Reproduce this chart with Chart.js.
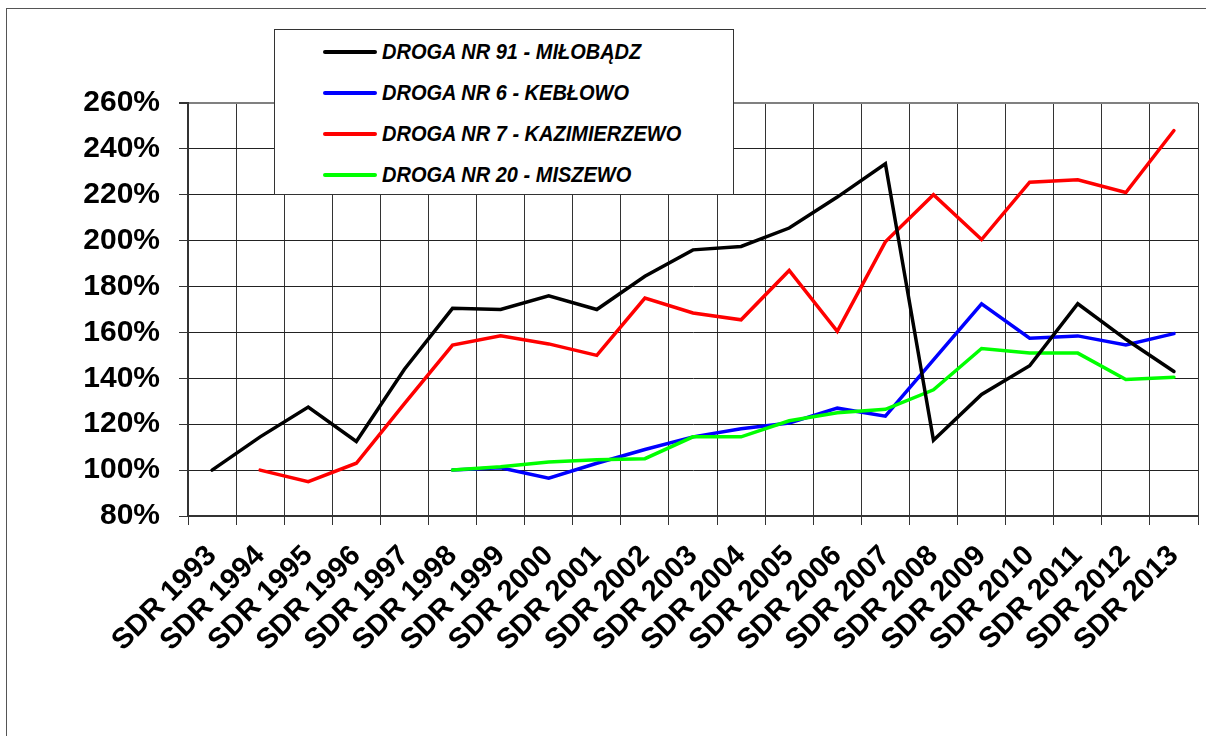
<!DOCTYPE html>
<html lang="pl">
<head>
  <meta charset="UTF-8">
  <title>SDR – wskaźnik wzrostu ruchu</title>
  <script src="https://cdn.jsdelivr.net/npm/chart.js"></script>
  <style>
    html, body {
      margin: 0;
      padding: 0;
      background: #fff;
      overflow: hidden;
      width: 1206px;
      height: 736px;
    }
    #frame {
      position: absolute;
      left: 6px;
      top: 8px;
      width: 1300px;
      height: 800px;
      border: 1px solid #555;
    }
    #chart {
      position: absolute;
      left: 0;
      top: 0;
    }
    #legend {
      position: absolute;
      left: 274px;
      top: 29px;
      width: 458px;
      height: 164px;
      background: #fff;
      border: 1px solid #333;
      font-family: Arial, "Liberation Sans", sans-serif;
      font-weight: bold;
      font-style: italic;
      font-size: 20px;
    }
    .row {
      position: absolute;
      left: 48px;
      height: 24px;
      line-height: 24px;
      white-space: nowrap;
    }
    .row span.txt {
      display: inline-block;
      transform: scaleY(1.12);
    }
    .swatch {
      display: inline-block;
      width: 54px;
      height: 4px;
      border-radius: 2px;
      vertical-align: middle;
      margin-right: 5px;
      position: relative;
      top: -1px;
    }
  </style>
</head>
<body>
  <div id="frame"></div>
  <canvas id="chart" width="1206" height="736"></canvas>
  <div id="legend"></div>

  <script>
    const years = ['SDR 1993', 'SDR 1994', 'SDR 1995', 'SDR 1996', 'SDR 1997', 'SDR 1998', 'SDR 1999',
                   'SDR 2000', 'SDR 2001', 'SDR 2002', 'SDR 2003', 'SDR 2004', 'SDR 2005', 'SDR 2006',
                   'SDR 2007', 'SDR 2008', 'SDR 2009', 'SDR 2010', 'SDR 2011', 'SDR 2012', 'SDR 2013'];

    // values in % (first year of each count = 100%)
    const droga91 = [100, 114.5, 127.5, 112.5, 144, 170.5, 170, 176, 170, 184.5, 196, 197.5, 205.5,
                     219, 233.5, 113, 133, 145.5, 172.5, 157, 143];
    const droga6  = [null, null, null, null, null, 100, 101, 96.5, 103, 109, 114.5, 118, 120.5,
                     127, 123.5, 148, 172.5, 157.5, 158.5, 154.5, 159.5];
    const droga7  = [null, 100, 95, 103, 129, 154.5, 158.5, 155, 150, 175, 168.5, 165.5, 187,
                     160.5, 199.5, 220, 200.5, 225.5, 226.5, 221, 248];
    const droga20 = [null, null, null, null, null, 100, 101.5, 103.5, 104.5, 105, 114.5, 114.5, 121.5,
                     125, 126.5, 135, 153, 151, 151, 139.5, 140.5];

    const names  = ['DROGA NR 91 - MIŁOBĄDZ', 'DROGA NR 6 - KEBŁOWO', 'DROGA NR 7 - KAZIMIERZEWO', 'DROGA NR 20 - MISZEWO'];
    const colors = ['#000000', '#0000ff', '#ff0000', '#00ff00'];
    const series = [droga91, droga6, droga7, droga20];
    const drawOrder = [0, 3, 2, 1]; // black on top, green above blue

    const yTicks = [80, 100, 120, 140, 160, 180, 200, 220, 240, 260];

    const font = 'Arial, "Liberation Sans", sans-serif';

    // legend box (html, sits over the grid like in the original)
    const legend = document.getElementById('legend');
    const rowTops = [9, 50, 91, 132];
    names.forEach((n, i) => {
      const row = document.createElement('div');
      row.className = 'row';
      row.style.top = rowTops[i] + 'px';
      row.innerHTML = `<span class="swatch" style="background:${colors[i]}"></span><span class="txt">${n}</span>`;
      legend.appendChild(row);
    });

    const datasets = series.map((d, i) => ({
      label: names[i],
      data: d,
      borderColor: colors[i],
      borderWidth: 3.5,
      borderCapStyle: 'round',
      borderJoinStyle: 'miter',
      pointRadius: 0,
      fill: false,
      tension: 0,
      order: drawOrder[i]
    }));

    const ctx = document.getElementById('chart').getContext('2d');
    new Chart(ctx, {
      type: 'line',
      data: { labels: years, datasets: datasets },
      options: {
        responsive: false,
        animation: false,
        layout: { padding: { top: 103, right: 8, left: 0, bottom: 0 } },
        plugins: {
          legend: { display: false },
          tooltip: { enabled: false }
        },
        scales: {
          x: {
            offset: true,
            grid: {
              offset: true,
              drawTicks: true,
              tickLength: 9,
              color: c => (c.index === years.length ? '#808080' : '#333'),
              lineWidth: c => (c.index === years.length ? 2 : 1),
              tickColor: '#333'
            },
            border: { color: '#333', width: 2 },
            ticks: {
              autoSkip: false,
              maxRotation: 45,
              minRotation: 45,
              padding: 14,
              color: '#000',
              font: { family: font, size: 29, weight: 'bold' }
            },
            afterFit: s => {
              s.height = 220;
              s.paddingLeft = 0;
              s.paddingRight = 0;
            }
          },
          y: {
            min: 80,
            max: 260,
            afterBuildTicks: s => { s.ticks = yTicks.map(v => ({ value: v })); },
            grid: {
              drawTicks: true,
              tickLength: 9,
              color: c => (c.tick && c.tick.value === 260 ? '#808080' : '#222'),
              lineWidth: c => (c.tick && c.tick.value === 260 ? 2 : 1),
              tickColor: '#333'
            },
            border: { color: '#333', width: 2 },
            ticks: {
              padding: 19,
              color: '#000',
              font: { family: font, size: 30, weight: 'bold' },
              callback: v => v + '%'
            },
            afterFit: s => {
              s.width = 188;
              s.paddingTop = 0;
              s.paddingBottom = 0;
            }
          }
        }
      }
    });
  </script>
</body>
</html>
